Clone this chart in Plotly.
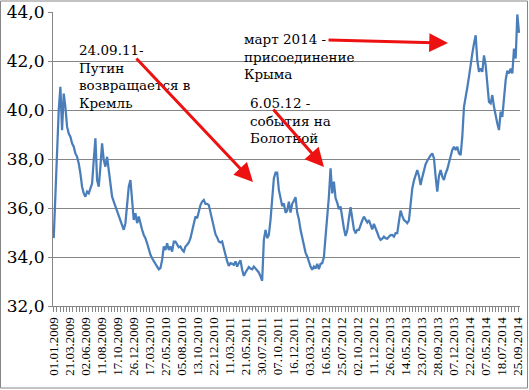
import numpy as np
import plotly.graph_objects as go

tick_labels = ["01.01.2009", "21.03.2009", "02.06.2009", "11.08.2009", "17.10.2009",
               "26.12.2009", "17.03.2010", "27.05.2010", "05.08.2010", "13.10.2010",
               "22.12.2010", "11.03.2011", "21.05.2011", "30.07.2011", "07.10.2011",
               "16.12.2011", "03.03.2012", "16.05.2012", "25.07.2012", "02.10.2012",
               "11.12.2012", "26.02.2013", "14.05.2013", "23.07.2013", "28.09.2013",
               "07.12.2013", "22.02.2014", "07.05.2014", "18.07.2014", "25.09.2014"]

y_ticks = [32, 34, 36, 38, 40, 42, 44]
y_tick_text = ["32,0", "34,0", "36,0", "38,0", "40,0", "42,0", "44,0"]

rate = [
    34.77, 36.60, 37.69, 39.99, 40.95, 39.18, 40.67, 40.13, 39.32, 39.04,
    38.91, 38.64, 38.50, 38.23, 38.09, 37.82, 37.41, 36.87, 36.60, 36.46,
    36.67, 36.60, 36.80, 37.00, 37.96, 38.84, 37.14, 36.87, 37.69, 38.64,
    37.96, 37.69, 38.09, 37.55, 36.87, 36.46, 36.26, 36.06, 35.85, 35.65,
    35.45, 35.31, 35.11, 35.38, 36.06, 36.87, 37.14, 36.33, 35.51, 35.79,
    35.38, 35.65, 35.31, 35.11, 34.90, 34.77, 34.56, 34.29, 34.09, 33.95,
    33.82, 33.72, 33.61, 33.50, 33.55, 33.88, 34.43, 34.29, 34.56, 34.29,
    34.43, 34.22, 34.63, 34.63, 34.50, 34.40, 34.43, 34.29, 34.22, 34.43,
    34.50, 34.59, 34.77, 35.11, 35.38, 35.65, 35.58, 35.85, 36.12, 36.26,
    36.33, 36.17, 36.17, 36.12, 35.85, 35.58, 35.24, 34.93, 34.80, 34.63,
    34.59, 34.63, 34.36, 34.05, 33.82, 33.64, 33.75, 33.72, 33.68, 33.82,
    33.61, 33.75, 33.86, 33.48, 33.23, 33.37, 33.50, 33.59, 33.53, 33.50,
    33.61, 33.53, 33.45, 33.37, 33.21, 33.03, 34.70, 35.11, 34.77, 34.90,
    35.51, 36.46, 37.21, 37.44, 37.44, 36.74, 36.36, 36.08, 36.19, 35.81,
    35.89, 36.26, 35.81, 36.17, 36.30, 36.44, 35.81, 35.54, 35.11, 34.77,
    34.45, 34.18, 34.02, 33.78, 33.61, 33.48, 33.61, 33.53, 33.72, 33.50,
    33.72, 33.75, 33.99, 34.83, 35.51, 36.46, 37.62, 36.60, 37.08, 36.40,
    36.22, 35.95, 36.06, 35.58, 35.17, 34.86, 35.08, 35.58, 36.03, 35.58,
    35.13, 34.97, 35.11, 35.11, 35.35, 35.49, 35.65, 35.54, 35.41, 35.51,
    35.27, 35.13, 35.35, 35.13, 35.00, 34.81, 34.70, 34.75, 34.83, 34.77,
    34.75, 34.83, 34.89, 34.90, 34.83, 34.97, 34.97, 35.45, 35.89, 35.68,
    35.51, 35.46, 35.38, 35.49, 36.19, 36.80, 37.12, 37.39, 37.55, 37.31,
    36.94, 37.25, 37.52, 37.79, 37.93, 38.07, 38.15, 38.23, 38.03, 37.28,
    36.67, 37.31, 37.55, 37.28, 37.14, 37.41, 37.58, 37.85, 38.12, 38.37,
    38.50, 38.37, 38.50, 38.23, 38.16, 38.91, 40.13, 40.61, 40.92, 41.35,
    41.90, 42.30, 42.71, 43.05, 42.03, 41.56, 41.69, 41.56, 42.23, 41.83,
    41.08, 40.33, 40.27, 40.61, 40.13, 39.72, 39.45, 39.18, 39.93, 39.72,
    40.54, 41.22, 41.60, 41.49, 41.69, 41.49, 42.51, 42.10, 43.90, 43.15,
]

samples_per_label = 9.6
x = np.arange(len(rate)) / samples_per_label

fig = go.Figure()
fig.add_trace(go.Scatter(x=x, y=rate, mode="lines",
                         line=dict(color="#4A7EBB", width=2.25),
                         hoverinfo="skip", showlegend=False))

W, H = 529, 390
L, R, T, B = 53, 9, 12, 84
pw, ph = W - L - R, H - T - B

def px(xp):
    return (xp - L) / pw

def py(yp):
    return 1 - (yp - T) / ph

axis_col = "#868686"
fig.update_layout(
    width=W, height=H,
    margin=dict(l=L, r=R, t=T, b=B, autoexpand=False),
    paper_bgcolor="white", plot_bgcolor="white",
    xaxis=dict(range=[-0.045, 29.125], tickmode="array",
               tickvals=list(range(len(tick_labels))), ticktext=tick_labels,
               tickangle=-90, ticks="outside", ticklen=5, tickcolor=axis_col,
               showgrid=False, zeroline=False, showline=True, linecolor=axis_col,
               linewidth=1, automargin=False,
               tickfont=dict(family="Liberation Serif", size=13, color="black"),
               minor=dict(ticks="outside", ticklen=5, tickcolor=axis_col,
                          tick0=0, dtick=0.2, showgrid=False)),
    yaxis=dict(range=[32, 44], tickmode="array", tickvals=y_ticks,
               ticktext=y_tick_text, ticks="outside", ticklen=4, tickcolor=axis_col,
               showgrid=True, gridcolor=axis_col, gridwidth=1, zeroline=False,
               showline=True, linecolor=axis_col, linewidth=1, automargin=False,
               tickfont=dict(family="DejaVu Serif", size=17, color="black")),
)

ann_font = dict(family="DejaVu Serif", size=13.5, color="black")
texts = [
    ("24.09.11-<br>Путин<br>возвращается в<br>Кремль", 77, 40),
    ("март 2014 -<br>присоединение<br>Крыма", 242, 29),
    ("6.05.12 -<br>события на<br>Болотной", 248, 93),
]
for t, xp, yp in texts:
    fig.add_annotation(text=t, xref="paper", yref="paper", x=px(xp), y=py(yp),
                       xanchor="left", yanchor="top", align="left",
                       showarrow=False, font=ann_font)

arrows = [((135, 57), (253, 182)), ((272, 108), (324, 167)), ((327, 40), (448, 43))]
for (tx, ty), (hx, hy) in arrows:
    fig.add_annotation(text="", xref="paper", yref="paper", x=px(hx), y=py(hy),
                       axref="pixel", ayref="pixel", ax=tx - hx, ay=ty - hy,
                       showarrow=True, arrowhead=2, arrowsize=1.25, arrowwidth=3,
                       arrowcolor="#EE1111", standoff=0)

fig.add_shape(type="rect", xref="paper", yref="paper",
              x0=px(0.5), x1=px(527.5), y0=py(388), y1=py(1),
              line=dict(color=axis_col, width=1), fillcolor="rgba(0,0,0,0)")

fig.write_html("out.html", config={"displayModeBar": False},
               post_script="document.body.style.margin='0';document.body.style.padding='0';")
